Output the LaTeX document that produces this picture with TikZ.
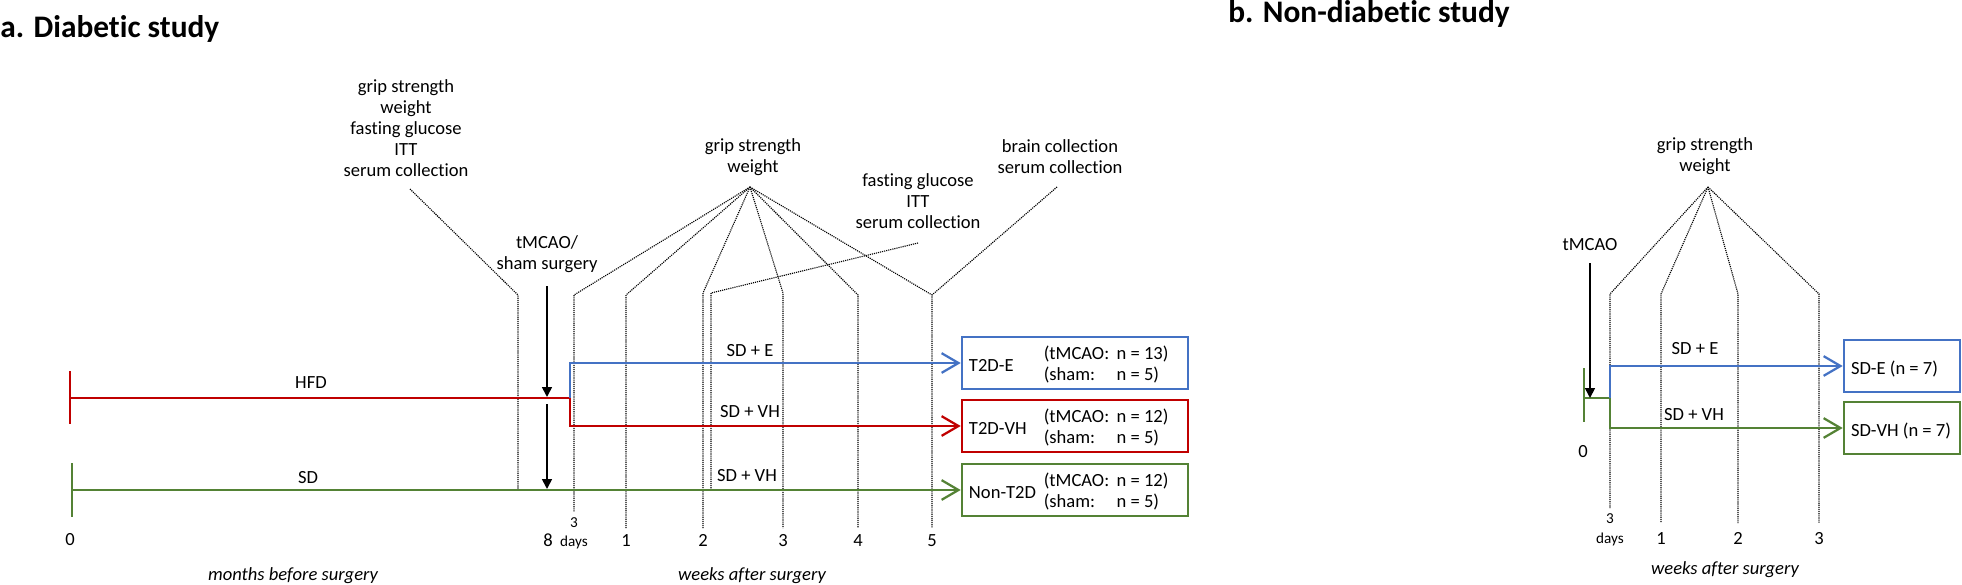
\documentclass[tikz,border=0pt]{standalone}
\usepackage{fontspec}
\setmainfont{Carlito}[Ligatures=NoCommon]
\usetikzlibrary{positioning}
\usetikzlibrary{calc}
\usetikzlibrary{arrows.meta}
\definecolor{hfdred}{RGB}{192,0,0}
\definecolor{sdgreen}{RGB}{84,130,53}
\definecolor{eblue}{RGB}{68,114,196}
\newcommand{\grpcount}[2]{\begin{tabular}{@{}p{1.82cm}@{}l@{}}(tMCAO: & n = #1)\\(sham: & n = #2)\end{tabular}}

\begin{document}
\begin{tikzpicture}[x=0.025cm, y=-0.025cm,
    every node/.style={font=\fontsize{13.2}{15}\selectfont, inner sep=0pt, align=center},
    small/.style={font=\fontsize{10.8}{13}\selectfont},
    ttl/.style={font=\fontsize{22.3}{26}\selectfont\bfseries},
    axislab/.style={font=\fontsize{13.2}{15}\selectfont\itshape},
    dotline/.style={line width=0.8pt, dash pattern=on 0.8pt off 0.7pt},
    diet/.style={line width=1.6pt},
    grp/.style={draw, line width=1.8pt, minimum height=1.3cm},
    >={Straight Barb[length=12pt,width=14pt]},
    surg/.style={-{Triangle[length=7pt,width=7pt]}, line width=1.2pt}]
        \useasboundingbox (0,0) rectangle (1962,585);
        % titles %
        \node[ttl, anchor=base west] (titleA) at (0,37) {a. Diabetic study};
        \node[ttl, anchor=base west] (titleB) at (1228,22) {b. Non-diabetic study};

        % nodes (diabetic) %
        \node (meas0) at (406,128) {grip strength\\weight\\fasting glucose\\ITT\\serum collection};
        \node (tmL) at (547,254) {tMCAO/\\sham surgery};
        \node (meas1) at (753,157) {grip strength\\weight};
        \node (meas2) at (918,201) {fasting glucose\\ITT\\serum collection};
        \node (meas3) at (1060,157) {brain collection\\serum collection};

        \node[grp, draw=eblue, minimum width=5.65cm] (boxE) at (1075,363) {};
        \node[grp, draw=hfdred, minimum width=5.65cm] (boxVH) at (1075,426) {};
        \node[grp, draw=sdgreen, minimum width=5.65cm] (boxN) at (1075,490) {};
        \node[right=0.2cm of boxE.west, yshift=-2pt] (labE) {T2D-E};
        \node[right=2.07cm of boxE.west, yshift=-2pt] (cntE) {\grpcount{13}{5}};
        \node[right=0.2cm of boxVH.west, yshift=-2pt] (labVH) {T2D-VH};
        \node[right=2.07cm of boxVH.west, yshift=-2pt] (cntVH) {\grpcount{12}{5}};
        \node[right=0.2cm of boxN.west, yshift=-2pt] (labN) {Non-T2D};
        \node[right=2.07cm of boxN.west, yshift=-2pt] (cntN) {\grpcount{12}{5}};

        \node[anchor=base] (hfdlab) at (311,388) {HFD};
        \node[anchor=base] (sdlab) at (308,483) {SD};
        \node[anchor=base] (elab) at (750,356) {SD + E};
        \node[anchor=base] (vhlab) at (750,417) {SD + VH};
        \node[anchor=base] (vhNlab) at (747,481) {SD + VH};

        \node[anchor=base] (m0) at (70,545) {0};
        \node[anchor=base] (m8) at (548,546) {8};
        \node[small, anchor=base] (d3) at (574,527) {3};
        \node[small, anchor=base] (d3days) at (574,546) {days};
        \node[anchor=base] (w1) at (626,546) {1};
        \node[anchor=base] (w2) at (703,546) {2};
        \node[anchor=base] (w3) at (783,546) {3};
        \node[anchor=base] (w4) at (858,546) {4};
        \node[anchor=base] (w5) at (932,546) {5};
        \node[axislab, anchor=base] (monthsL) at (293,580) {months before surgery};
        \node[axislab, anchor=base] (weeksL) at (752,580) {weeks after surgery};

        % nodes (non-diabetic) %
        \node (measR) at (1705,156) {grip strength\\weight};
        \node (tmR) at (1590,245) {tMCAO};
        \node[grp, draw=eblue, minimum width=2.9cm] (boxSDE) at (1902,366) {};
        \node[grp, draw=sdgreen, minimum width=2.9cm] (boxSDVH) at (1902,428) {};
        \node[right=0.2cm of boxSDE.west, yshift=-2pt] (labSDE) {SD-E (n = 7)};
        \node[right=0.2cm of boxSDVH.west, yshift=-2pt] (labSDVH) {SD-VH (n = 7)};
        \node[anchor=base] (eRlab) at (1695,354) {SD + E};
        \node[anchor=base] (vhRlab) at (1694,420) {SD + VH};
        \node[anchor=base] (r0) at (1583,457) {0};
        \node[small, anchor=base] (rd3) at (1610,523) {3};
        \node[small, anchor=base] (rd3days) at (1610,543) {days};
        \node[anchor=base] (rw1) at (1661,544) {1};
        \node[anchor=base] (rw2) at (1738,544) {2};
        \node[anchor=base] (rw3) at (1819,544) {3};
        \node[axislab, anchor=base] (weeksR) at (1725,574) {weeks after surgery};

        % coordinates %
        \coordinate (hfd0) at (70,398);
        \coordinate (stepL) at (570,398);
        \coordinate (sd0) at (72,490);
        \coordinate (surgL1) at (547,397);
        \coordinate (surgL2a) at (547,404);
        \coordinate (surgL2b) at (547,489);
        \coordinate (apexL) at (750,187);
        \coordinate (vm0) at (410,189);
        \coordinate (v8) at (518,295);
        \coordinate (vd3) at (574,295);
        \coordinate (vw1) at (626,295);
        \coordinate (vw2) at (703,293);
        \coordinate (vw3) at (783,293);
        \coordinate (vw4) at (858,295);
        \coordinate (vw5) at (932,295);
        \coordinate (vm2a) at (918,243);
        \coordinate (vm2b) at (711,293);
        \coordinate (vm3) at (1057,187);
        \coordinate (sdR0) at (1584,398);
        \coordinate (stepR) at (1610,398);
        \coordinate (surgR) at (1590,398);
        \coordinate (apexR) at (1708,187);
        \coordinate (rvd3) at (1610,294);
        \coordinate (rvw1) at (1661,294);
        \coordinate (rvw2) at (1738,294);
        \coordinate (rvw3) at (1819,294);

        % edges (diabetic) %
        \draw[dotline] (vm0) -- (v8) -- (v8 |- sd0);
        \draw[dotline] (apexL) -- (vd3) -- (574,512);
        \draw[dotline] (apexL) -- (vw1) -- (626,528);
        \draw[dotline] (apexL) -- (vw2) -- (703,528);
        \draw[dotline] (apexL) -- (vw3) -- (783,528);
        \draw[dotline] (apexL) -- (vw4) -- (858,528);
        \draw[dotline] (apexL) -- (vw5) -- (932,528);
        \draw[dotline] (vm2a) -- (vm2b) -- (vm2b |- sd0);
        \draw[dotline] (vm3) -- (vw5);

        \draw[diet, hfdred] (70,371) -- (70,424);
        \draw[diet, hfdred] (hfd0) -- (stepL);
        \draw[diet, hfdred, ->] (stepL) |- (boxVH.west);
        \draw[diet, eblue, ->] (stepL) |- (boxE.west);
        \draw[diet, sdgreen] (72,463) -- (72,517);
        \draw[diet, sdgreen, ->] (sd0) -- (boxN.west);

        \draw[surg, shorten <=0.33cm] (tmL) -- (surgL1);
        \draw[surg] (surgL2a) -- (surgL2b);

        % edges (non-diabetic) %
        \draw[dotline] (apexR) -- (rvd3) -- (1610,508);
        \draw[dotline] (apexR) -- (rvw1) -- (1661,523);
        \draw[dotline] (apexR) -- (rvw2) -- (1738,523);
        \draw[dotline] (apexR) -- (rvw3) -- (1819,523);

        \draw[diet, sdgreen] (1584,368) -- (1584,422);
        \draw[diet, sdgreen] (sdR0) -- (stepR);
        \draw[diet, sdgreen, ->] (stepR) |- (boxSDVH.west);
        \draw[diet, eblue, ->] (stepR) |- (boxSDE.west);
        \draw[surg, shorten <=0.3cm] (tmR) -- (surgR);
\end{tikzpicture}
\end{document}
